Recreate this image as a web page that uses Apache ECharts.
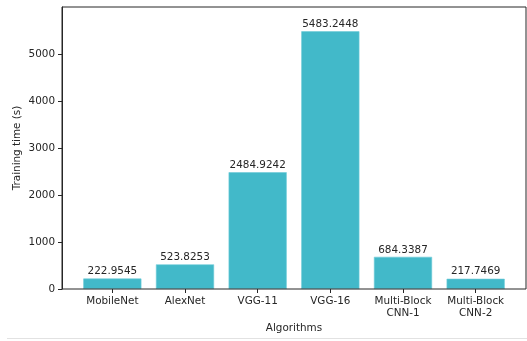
<!DOCTYPE html>
<html>
<head>
<meta charset="utf-8">
<script src="https://cdn.jsdelivr.net/npm/echarts@6/dist/echarts.min.js"></script>
<style>
  html, body { margin: 0; padding: 0; background: #fff; }
  #chart { width: 527px; height: 341px; }
</style>
</head>
<body>
<div id="chart"></div>
<script>
var algorithms = ['MobileNet', 'AlexNet', 'VGG-11', 'VGG-16', 'Multi-Block\nCNN-1', 'Multi-Block\nCNN-2']
var trainingTimes = [222.9545, 523.8253, 2484.9242, 5483.2448, 684.3387, 217.7469]
var yTicks = [0, 1000, 2000, 3000, 4000, 5000]

var font = 'DejaVu Sans'
var ink = '#262626'
var fs = 10.4

var chart = echarts.init(document.getElementById('chart'), null, { renderer: 'canvas' })

chart.setOption({
  animation: false,
  textStyle: { fontFamily: font },
  grid: [
    // bars live here; inset so the outer frame keeps matplotlib's side margins
    { left: 76, right: 15, top: 7, bottom: 52 },
    // frame only
    { left: 62, right: 1, top: 7, bottom: 52, show: true, borderColor: ink, borderWidth: 1, z: 5 }
  ],
  xAxis: [
    {
      type: 'category',
      gridIndex: 0,
      data: algorithms,
      axisLine: { show: false },
      axisTick: { show: true, interval: 0, alignWithLabel: true, length: 4, lineStyle: { color: ink } },
      axisLabel: { interval: 0, color: ink, fontSize: fs, fontFamily: font, margin: 6, lineHeight: 12 },
      name: 'Algorithms',
      nameLocation: 'middle',
      nameGap: 34,
      nameMoveOverlap: false,
      nameTextStyle: { color: ink, fontSize: fs, fontFamily: font }
    },
    { type: 'value', gridIndex: 1, show: false, min: 0, max: 1 }
  ],
  yAxis: [
    {
      type: 'value',
      gridIndex: 0,
      min: 0,
      max: 6000,
      interval: 1000,
      offset: 14,
      splitLine: { show: false },
      axisLine: { show: true, lineStyle: { color: ink } },
      axisTick: { show: true, length: 4, customValues: yTicks, lineStyle: { color: ink } },
      axisLabel: {
        color: ink, fontSize: fs, fontFamily: font, margin: 7, customValues: yTicks,
        formatter: function (v) { return String(v) }
      },
      name: 'Training time (s)',
      nameLocation: 'middle',
      nameGap: 40,
      nameMoveOverlap: false,
      nameTextStyle: { color: ink, fontSize: fs, fontFamily: font }
    },
    { type: 'value', gridIndex: 1, show: false, min: 0, max: 1 }
  ],
  series: [
    {
      type: 'bar',
      xAxisIndex: 0,
      yAxisIndex: 0,
      data: trainingTimes,
      barWidth: '80%',
      itemStyle: { color: '#42b9c9', borderColor: '#6fcbd8', borderWidth: 0.6 },
      label: {
        show: true,
        position: 'top',
        distance: 2,
        color: ink,
        fontSize: fs,
        fontFamily: font,
        formatter: function (p) { return p.value.toFixed(4) }
      }
    }
  ],
  graphic: [
    {
      type: 'line',
      shape: { x1: 7, y1: 338.5, x2: 527, y2: 338.5 },
      style: { stroke: '#e2e2e2', lineWidth: 1 }
    }
  ]
})
</script>
</body>
</html>
